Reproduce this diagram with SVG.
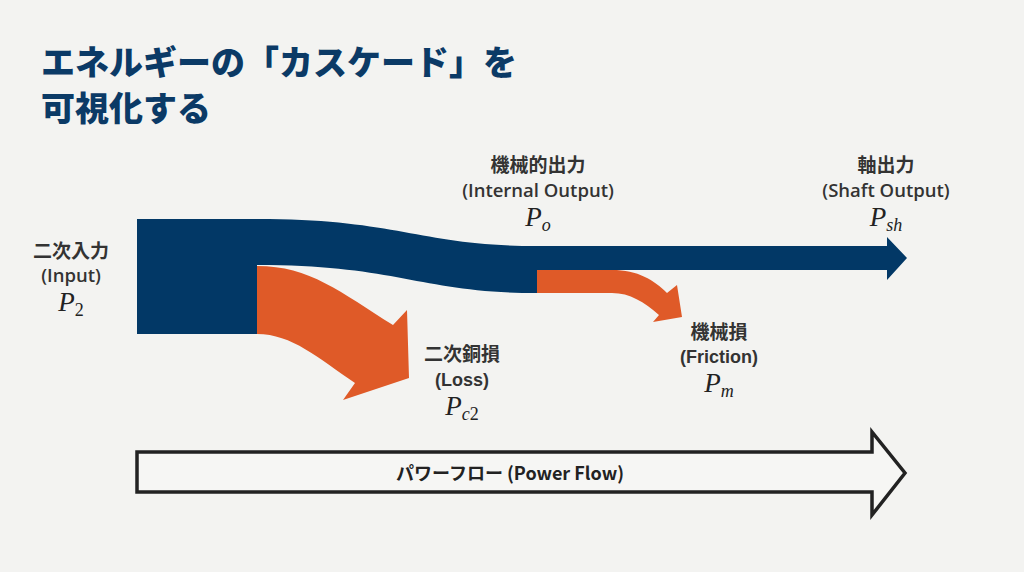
<svg xmlns="http://www.w3.org/2000/svg" width="1024" height="572" viewBox="0 0 1024 572">
<style>
.title{font-family:"Noto Sans CJK JP","Noto Sans",sans-serif;font-weight:900;font-size:34px;fill:#0b3a66}
.jp{font-family:"Noto Sans CJK JP",sans-serif;font-weight:600;font-size:19px;fill:#333;text-anchor:middle}
.en{font-family:"Open Sans","Noto Sans",sans-serif;font-weight:600;font-size:18.5px;fill:#333;text-anchor:middle}
.enb{font-family:"Liberation Sans",Arial,sans-serif;font-weight:700;font-size:18px;fill:#333;text-anchor:middle}
.math{font-family:"Liberation Serif","Times New Roman",serif;font-style:italic;font-size:27px;fill:#222;text-anchor:middle}
.sub{font-size:18px}
.up{font-style:normal}
.navy{fill:#023866}
.orange{fill:#df5a28}
.flow{font-family:"Noto Sans CJK JP",sans-serif;font-weight:700;font-size:18px;fill:#222;text-anchor:middle}
</style>
<rect width="1024" height="572" fill="#f3f3f1"/>
<g id="title">
<text class="title" x="41" y="75">エネルギーの「カスケード」を</text>
<text class="title" x="41" y="121">可視化する</text>
</g>
<g id="connectors">
<path id="flow-main" class="navy" d="M137,219 L257,219 C400,219 420,246 537,246 L887,246 L887,237 L907,258 L887,280 L887,270 L537,270 L537,293 C420,293 400,265 257,265 L257,334 L137,334 Z"/>
<path id="flow-loss" class="orange" d="M257,266 C310,266 340,292 393,325 L407,310 L409,378 L343,400 L355,383 C318,358 292,334 257,334 Z"/>
<path id="flow-friction" class="orange" d="M537,270 L612,270 C638,270 654,280 667,293 L677,285 L682,317 L653,322 L659,315 C644,302 630,293 612,293 L537,293 Z"/>
<path id="power-flow" d="M137,452 L872,452 L872,432 L905,473 L872,515 L872,492 L137,492 Z" fill="#f6f6f4" stroke="#222" stroke-width="3.5" stroke-linejoin="miter"/>
<text class="flow" x="510" y="480">パワーフロー (Power Flow)</text>
</g>
<g id="node-input">
<text class="jp" x="71" y="258">二次入力</text>
<text class="en" x="71" y="282">(Input)</text>
<text class="math" x="71" y="311">P<tspan class="sub up" dy="5">2</tspan></text>
</g>
<g id="node-internal">
<text class="jp" x="538" y="172">機械的出力</text>
<text class="en" x="538" y="197">(Internal Output)</text>
<text class="math" x="538" y="226">P<tspan class="sub" dy="5">o</tspan></text>
</g>
<g id="node-shaft">
<text class="jp" x="886" y="172">軸出力</text>
<text class="en" x="886" y="197">(Shaft Output)</text>
<text class="math" x="886" y="226">P<tspan class="sub" dy="5">sh</tspan></text>
</g>
<g id="node-loss">
<text class="jp" x="462" y="361">二次銅損</text>
<text class="enb" x="462" y="386">(Loss)</text>
<text class="math" x="462" y="415">P<tspan class="sub" dy="5">c</tspan><tspan class="sub up">2</tspan></text>
</g>
<g id="node-friction">
<text class="jp" x="719" y="339">機械損</text>
<text class="enb" x="719" y="363">(Friction)</text>
<text class="math" x="719" y="392">P<tspan class="sub" dy="5">m</tspan></text>
</g>
</svg>
